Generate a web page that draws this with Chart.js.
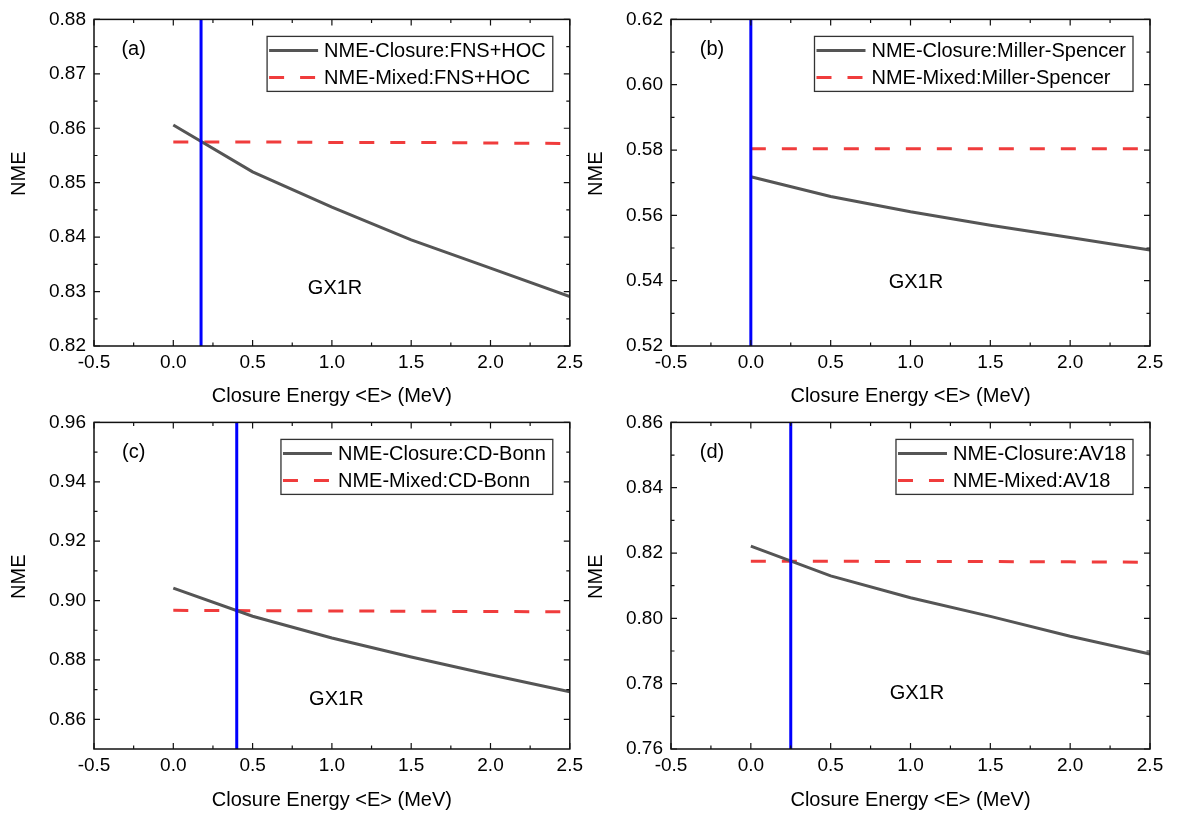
<!DOCTYPE html>
<html>
<head>
<meta charset="utf-8">
<script src="https://cdn.jsdelivr.net/npm/chart.js"></script>
<style>
  body { margin: 0; background: #fff; width: 1177px; height: 816px; overflow: hidden; }
  canvas { position: absolute; }
</style>
</head>
<body>
<canvas id="panelA" width="588" height="408" style="left:0px;top:0px"></canvas>
<canvas id="panelB" width="600" height="408" style="left:577px;top:0px"></canvas>
<canvas id="panelC" width="588" height="413" style="left:0px;top:403px"></canvas>
<canvas id="panelD" width="600" height="413" style="left:577px;top:403px"></canvas>
<script>
// closure energy <E> (MeV)
const energies = [0, 0.5, 1.0, 1.5, 2.0, 2.5];
const xTicks = [-0.5, 0, 0.5, 1.0, 1.5, 2.0, 2.5];

// (a) FNS+HOC
const closureA = [0.8606, 0.8520, 0.8455, 0.8395, 0.8343, 0.8291];
const mixedA = [0.8575, 0.8575, 0.8574, 0.8574, 0.8573, 0.8572];
const crossA = 0.175;
const yTicksA = [0.82, 0.83, 0.84, 0.85, 0.86, 0.87, 0.88];
const labelsA = ["NME-Closure:FNS+HOC", "NME-Mixed:FNS+HOC"];

// (b) Miller-Spencer
const closureB = [0.5718, 0.5658, 0.5611, 0.5570, 0.5532, 0.5494];
const mixedB = [0.5804, 0.5804, 0.5804, 0.5804, 0.5804, 0.5804];
const crossB = 0.0;
const yTicksB = [0.52, 0.54, 0.56, 0.58, 0.60, 0.62];
const labelsB = ["NME-Closure:Miller-Spencer", "NME-Mixed:Miller-Spencer"];

// (c) CD-Bonn
const closureC = [0.9042, 0.8947, 0.8874, 0.8810, 0.8750, 0.8693];
const mixedC = [0.8967, 0.8966, 0.8965, 0.8964, 0.8963, 0.8962];
const crossC = 0.40;
const yTicksC = [0.86, 0.88, 0.90, 0.92, 0.94, 0.96];
const labelsC = ["NME-Closure:CD-Bonn", "NME-Mixed:CD-Bonn"];

// (d) AV18
const closureD = [0.8221, 0.8130, 0.8063, 0.8006, 0.7945, 0.7891];
const mixedD = [0.8175, 0.8175, 0.8174, 0.8174, 0.8173, 0.8172];
const crossD = 0.25;
const yTicksD = [0.76, 0.78, 0.80, 0.82, 0.84, 0.86];
const labelsD = ["NME-Closure:AV18", "NME-Mixed:AV18"];

const FONT = "'Liberation Sans', Arial, sans-serif";
const GRAY = "#555555";
const RED = "rgb(240,60,60)";
const BLUE = "#0000ff";

function pts(xs, ys) {
  return xs.map((x, i) => ({ x: x, y: ys[i] }));
}

// frame, inward ticks, legend box and the text notes
const framePlugin = {
  id: "frame",
  afterDatasetsDraw(chart, args, opts) {
    const ctx = chart.ctx;
    const a = chart.chartArea;
    const xs = chart.scales.x;
    const ys = chart.scales.y;
    ctx.save();
    ctx.strokeStyle = "#111";
    ctx.lineWidth = 1.5;
    ctx.strokeRect(a.left, a.top, a.right - a.left, a.bottom - a.top);

    ctx.lineWidth = 1.2;
    ctx.beginPath();
    xTicks.forEach((v, i) => {
      let p = xs.getPixelForValue(v);
      ctx.moveTo(p, a.bottom); ctx.lineTo(p, a.bottom - 6);
      ctx.moveTo(p, a.top); ctx.lineTo(p, a.top + 6);
      if (i < xTicks.length - 1) {
        let m = xs.getPixelForValue(v + 0.25);
        ctx.moveTo(m, a.bottom); ctx.lineTo(m, a.bottom - 3.5);
        ctx.moveTo(m, a.top); ctx.lineTo(m, a.top + 3.5);
      }
    });
    const yt = opts.yTicks;
    const step = yt[1] - yt[0];
    yt.forEach((v, i) => {
      let p = ys.getPixelForValue(v);
      ctx.moveTo(a.left, p); ctx.lineTo(a.left + 6, p);
      ctx.moveTo(a.right, p); ctx.lineTo(a.right - 6, p);
      let mv = v - step / 2;
      if (mv > ys.min + 1e-9) {
        let m = ys.getPixelForValue(mv);
        ctx.moveTo(a.left, m); ctx.lineTo(a.left + 3.5, m);
        ctx.moveTo(a.right, m); ctx.lineTo(a.right - 3.5, m);
      }
    });
    ctx.stroke();

    // y axis title
    ctx.fillStyle = "#000";
    ctx.font = "20px " + FONT;
    ctx.textAlign = "center";
    ctx.textBaseline = "middle";
    ctx.save();
    ctx.translate(19, (a.top + a.bottom) / 2 - 9);
    ctx.rotate(-Math.PI / 2);
    ctx.fillText("NME", 0, 0);
    ctx.restore();

    // notes
    ctx.fillText(opts.tag, xs.getPixelForValue(opts.tagAt[0]), ys.getPixelForValue(opts.tagAt[1]));
    ctx.fillText("GX1R", xs.getPixelForValue(opts.noteAt[0]), ys.getPixelForValue(opts.noteAt[1]));

    // legend
    const items = chart.data.datasets.filter(d => d.label);
    ctx.textAlign = "left";
    let tw = 0;
    items.forEach(d => { tw = Math.max(tw, ctx.measureText(d.label).width); });
    const w = 3 + 49 + 6 + tw + 6;
    const h = 55;
    const bx = a.right - 17 - w;
    const by = a.top + 17;
    ctx.fillStyle = "#fff";
    ctx.fillRect(bx, by, w, h);
    ctx.strokeStyle = "#333";
    ctx.lineWidth = 1.3;
    ctx.strokeRect(bx, by, w, h);
    items.forEach((d, i) => {
      let cy = by + 14 + i * 27;
      ctx.strokeStyle = d.borderColor;
      ctx.lineWidth = d.borderWidth;
      ctx.setLineDash(d.borderDash || []);
      ctx.beginPath();
      ctx.moveTo(bx + 2, cy);
      ctx.lineTo(bx + 51, cy);
      ctx.stroke();
      ctx.setLineDash([]);
      ctx.fillStyle = "#000";
      ctx.fillText(d.label, bx + 57, cy + 1);
    });
    ctx.restore();
  }
};

function makePanel(id, closure, mixed, cross, yTicks, yMin, labels, tag, tagAt, noteAt, padTop, padRight, xHeight, titlePad) {
  const yMax = yTicks[yTicks.length - 1];
  new Chart(document.getElementById(id), {
    type: "scatter",
    data: {
      datasets: [
        {
          data: [{ x: cross, y: yMin }, { x: cross, y: yMax }],
          showLine: true,
          borderColor: BLUE,
          borderWidth: 3,
          pointRadius: 0,
          order: 0,
        },
        {
          label: labels[0],
          data: pts(energies, closure),
          showLine: true,
          borderColor: GRAY,
          borderWidth: 3,
          pointRadius: 0,
          order: 1,
        },
        {
          label: labels[1],
          data: pts(energies, mixed),
          showLine: true,
          borderColor: RED,
          borderWidth: 3,
          borderDash: [15, 16],
          pointRadius: 0,
          order: 2,
        },
      ],
    },
    options: {
      responsive: false,
      animation: false,
      layout: { padding: { top: padTop, right: padRight, bottom: 0, left: 0 } },
      plugins: {
        legend: { display: false },
        tooltip: { enabled: false },
        frame: { yTicks: yTicks, tag: tag, tagAt: tagAt, noteAt: noteAt },
      },
      scales: {
        x: {
          type: "linear",
          min: -0.5,
          max: 2.5,
          grid: { display: false, drawTicks: false },
          border: { display: false },
          afterBuildTicks: (s) => { s.ticks = xTicks.map(v => ({ value: v })); },
          afterFit: (s) => { s.height = xHeight; },
          ticks: {
            padding: 5,
            color: "#000",
            font: { family: FONT, size: 19 },
            callback: (v) => Number(v).toFixed(1),
          },
          title: {
            display: true,
            text: "Closure Energy <E> (MeV)",
            color: "#000",
            font: { family: FONT, size: 20 },
            padding: { top: 0, bottom: titlePad },
          },
        },
        y: {
          type: "linear",
          min: yMin,
          max: yMax,
          grid: { display: false, drawTicks: false },
          border: { display: false },
          afterBuildTicks: (s) => { s.ticks = yTicks.map(v => ({ value: v })); },
          afterFit: (s) => { s.width = 94; },
          ticks: {
            padding: 8,
            color: "#000",
            font: { family: FONT, size: 19 },
            callback: (v) => Number(v).toFixed(2),
          },
        },
      },
    },
    plugins: [framePlugin],
  });
}

makePanel("panelA", closureA, mixedA, crossA, yTicksA, 0.82, labelsA, "(a)", [-0.25, 0.8745], [1.02, 0.8306], 12, 15, 62, 0);
makePanel("panelB", closureB, mixedB, crossB, yTicksB, 0.52, labelsB, "(b)", [-0.243, 0.6108], [1.034, 0.5395], 12, 27, 62, 0);
makePanel("panelC", closureC, mixedC, crossC, yTicksC, 0.85, labelsC, "(c)", [-0.25, 0.9498], [1.028, 0.8668], 12, 15, 67, 4);
makePanel("panelD", closureD, mixedD, crossD, yTicksD, 0.76, labelsD, "(d)", [-0.243, 0.8507], [1.04, 0.7771], 12, 27, 67, 4);
</script>
</body>
</html>
